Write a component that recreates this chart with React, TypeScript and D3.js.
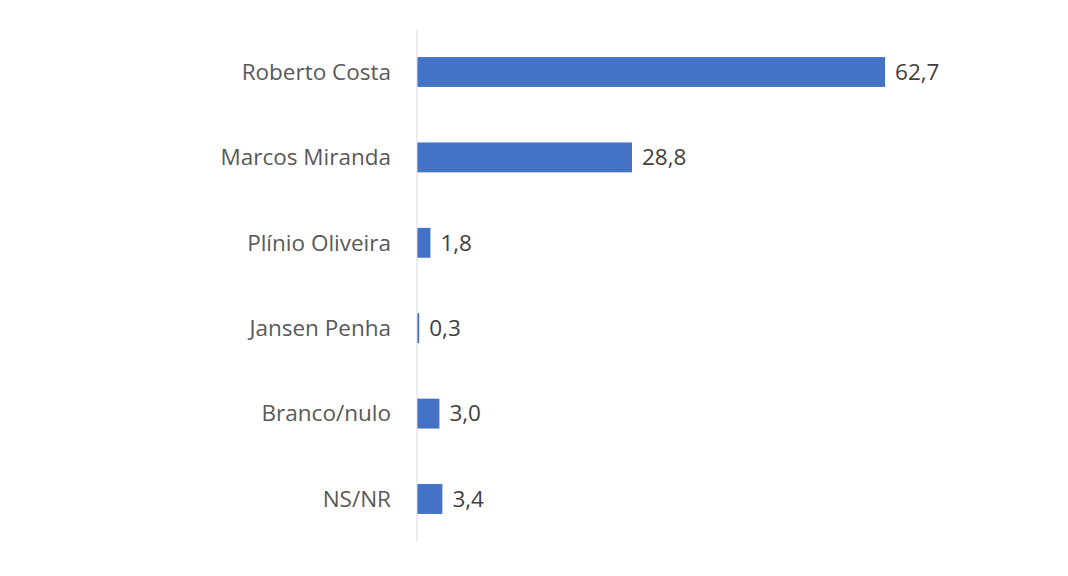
import React from "react";
import * as d3 from "d3";

const categories = ["Roberto Costa", "Marcos Miranda", "Plínio Oliveira", "Jansen Penha", "Branco/nulo", "NS/NR"];
const values = [62.7, 28.8, 1.8, 0.3, 3.0, 3.4];
const valueLabels = ["62,7", "28,8", "1,8", "0,3", "3,0", "3,4"];

export default function App() {
  const width = 1068;
  const height = 576;
  const x0 = 417;
  const x = d3.scaleLinear().domain([0, 70]).range([x0, x0 + 70 * 7.465]);
  const y = d3.scaleBand<string>().domain(categories).range([29.3, 541.7]).paddingInner(0.65).paddingOuter(0.325);
  const font = "'Open Sans', 'Liberation Sans', sans-serif";
  return (
    <svg width={width} height={height} style={{ position: "absolute", left: 0, top: 0, background: "#fff" }}>
      <rect width={width} height={height} fill="#fff" />
      {categories.map((c, i) => {
        const yc = (y(c) as number) + y.bandwidth() / 2;
        return (
          <g key={c}>
            <rect x={x(0)} y={y(c)} width={x(values[i]) - x(0)} height={y.bandwidth()} fill="#4472c4" />
            <text x={x0 - 26} y={yc} dy="0.35em" textAnchor="end" fontFamily={font} fontSize={22.5} fill="#595959">{c}</text>
            <text x={x(values[i]) + 10} y={yc} dy="0.35em" textAnchor="start" fontFamily={font} fontSize={22.5} fill="#404040">{valueLabels[i]}</text>
          </g>
        );
      })}
      <line x1={x0} x2={x0} y1={29.3} y2={541.7} stroke="#d9d9d9" strokeWidth={1} />
    </svg>
  );
}
